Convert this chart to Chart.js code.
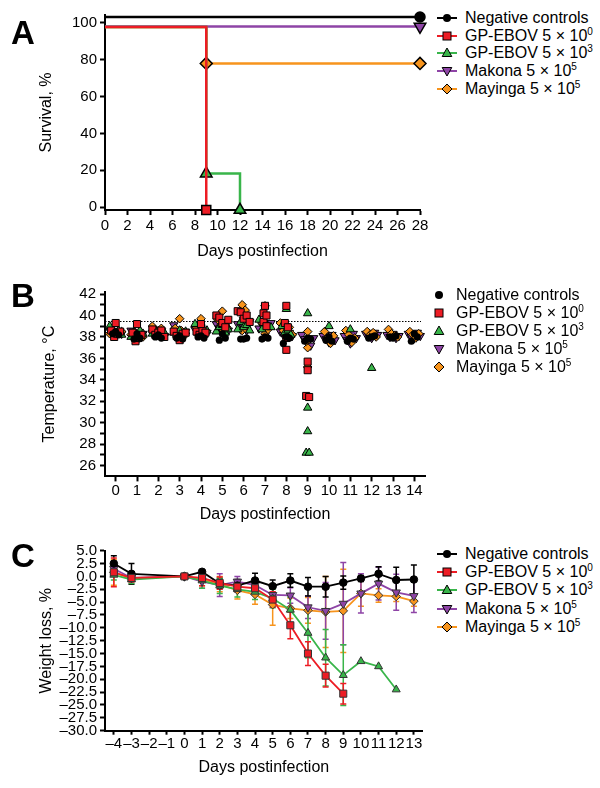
<!DOCTYPE html>
<html>
<head>
<meta charset="utf-8">
<script src="https://cdn.jsdelivr.net/npm/chart.js@4.4.1/dist/chart.umd.min.js"></script>
<style>
  body { margin: 0; background: #fff; font-family: Arial, "Liberation Sans", sans-serif; }
  #wrap { position: relative; width: 600px; height: 788px; overflow: hidden; }
  canvas { position: absolute; }
  .panel { position: absolute; left: 11px; font-size: 33px; font-weight: bold; line-height: 33px; }
  .legend { position: absolute; font-size: 16px; color: #000; }
  .legend .row { display: flex; align-items: center; white-space: nowrap; }
  .legend svg { flex: none; }
  .legend sup { font-size: 10px; vertical-align: baseline; position: relative; top: -6px; }
</style>
</head>
<body>
<div id="wrap">
  <canvas id="cA" width="430" height="270" style="left:0;top:0"></canvas>
  <canvas id="cB" width="435" height="260" style="left:0;top:270px"></canvas>
  <canvas id="cC" width="435" height="258" style="left:0;top:530px"></canvas>
  <div class="panel" style="top:16px">A</div>
  <div class="panel" style="top:279px">B</div>
  <div class="panel" style="top:539px">C</div>
  <div class="legend" id="legA" style="left:437px;top:9px"></div>
  <div class="legend" id="legB" style="left:432px;top:286px"></div>
  <div class="legend" id="legC" style="left:437px;top:545px"></div>
</div>
<script>
// groups (legend order)
const groupLabels = ['Negative controls', 'GP-EBOV 5 × 10^0', 'GP-EBOV 5 × 10^3', 'Makona 5 × 10^5', 'Mayinga 5 × 10^5'];
const groupColors = ['#000000', '#ed1c24', '#39b54a', '#8e44a6', '#f7941d'];
const groupShapes = ['circle', 'rect', 'triangle', 'triangleDown', 'rectRot'];

// A: survival (%), step curves
const survNegX = [0, 28],        survNegY = [103.2, 103.2];
const survGp0X = [0, 9],         survGp0Y = [97.8, -1.6];
const survGp3X = [0, 9, 12],     survGp3Y = [97.8, 18.2, -1.6];
const survMakX = [0, 28],        survMakY = [98.0, 98.0];
const survMayX = [0, 9, 28],     survMayY = [97.8, 78.0, 78.0];
const survXTicks = [0, 2, 4, 6, 8, 10, 12, 14, 16, 18, 20, 22, 24, 26, 28];
const survYTicks = [0, 20, 40, 60, 80, 100];

// B: temperature (°C), one list of animals per day 0..14
const tempDays = [0, 1, 2, 3, 4, 5, 6, 7, 8, 9, 10, 11, 12, 13, 14];
const tempNeg = [[38.3, 38.5, 38.2], [37.8, 38.3, 37.9], [38.0, 38.2, 37.9], [37.9, 38.1, 37.8], [38.0, 38.1, 37.9],
  [37.7, 38.3, 37.9], [37.8, 37.8, 37.9], [37.8, 38.0, 37.9], [37.4, 38.0, 37.9], [37.6, 37.9, 37.8],
  [37.7, 38.0, 37.6], [37.6, 37.9, 37.8], [37.9, 38.0, 38.1], [38.0, 37.9, 38.1], [37.6, 38.3, 38.0]];
const tempGp0 = [[39.3, 38.6, 38.0, 38.3, 38.5], [39.2, 38.4, 37.6, 37.9, 38.2], [38.7, 38.2, 38.4, 38.6, 38.0],
  [38.5, 38.1, 37.7, 38.3, 38.4], [39.2, 38.5, 38.2, 38.6, 38.4], [40.0, 39.8, 39.3, 38.9, 39.6],
  [40.4, 40.3, 39.7, 40.0, 39.4], [40.9, 40.2, 39.4, 39.0, 40.0], [40.9, 39.3, 38.9, 37.9, 36.8],
  [35.7, 34.9, 32.5, 32.4]];
const tempGp3 = [[39.0, 38.5, 38.3, 38.6, 38.2], [38.0, 38.4, 38.2, 38.6, 38.3], [38.3, 38.6, 38.2, 38.5, 38.4],
  [38.4, 38.2, 38.6, 38.3, 38.5], [39.2, 38.4, 38.8, 38.2, 38.6], [38.5, 38.9, 39.1, 38.4, 38.7],
  [38.7, 39.4, 38.9, 39.1, 38.6], [39.6, 38.7, 39.3, 39.0, 38.9], [40.6, 39.0, 38.4, 38.6, 38.2],
  [40.2, 31.4, 29.2, 27.2, 27.2], [39.0], [38.7], [35.1]];
const tempMak = [[38.6, 38.4, 38.2, 38.5, 38.3], [38.6, 38.4, 38.2, 38.0, 38.3], [38.4, 38.7, 38.2, 38.5, 38.1],
  [39.1, 38.7, 38.4, 38.2, 38.5], [38.7, 38.5, 38.9, 38.3, 38.4], [39.2, 38.8, 38.5, 39.0, 38.6],
  [39.2, 38.7, 38.9, 38.6, 39.4], [38.8, 39.1, 38.6, 38.9, 39.3], [38.5, 38.2, 38.7, 38.4, 38.1],
  [38.2, 37.8, 37.5, 37.2, 37.9], [38.1, 37.8, 37.5, 38.2, 37.7], [38.1, 37.7, 37.4, 38.3, 37.9],
  [38.3, 38.1, 37.9, 38.4, 38.2], [38.2, 38.0, 38.3, 37.9, 38.1], [38.3, 38.0, 37.9, 38.4, 38.1]];
const tempMay = [[38.3, 38.6, 38.1, 38.4, 38.5], [38.2, 38.5, 38.3, 37.9, 38.0], [39.0, 38.6, 38.3, 38.8, 38.2],
  [39.7, 38.8, 38.4, 38.6, 38.1], [39.7, 38.9, 38.4, 38.6, 38.3], [40.4, 39.6, 39.1, 38.6, 38.9],
  [41.0, 40.5, 39.8, 38.6, 38.8], [40.9, 40.1, 39.3, 38.3, 38.7], [39.3, 38.6, 38.1, 38.9, 38.2],
  [38.5, 37.6, 37.0, 35.2, 37.8], [38.5, 37.9, 37.4, 38.1], [38.6, 38.2, 37.5, 37.9],
  [38.5, 38.2, 38.4, 38.0], [38.7, 38.3, 38.1, 38.0], [38.5, 38.2, 37.9, 38.3]];
const feverLine = 39.5;
const tempYTicks = [26, 27, 28, 29, 30, 31, 32, 33, 34, 35, 36, 37, 38, 39, 40, 41, 42];

// C: weight loss (%), mean and error per day
const weightDays = [-4, -3, 0, 1, 2, 3, 4, 5, 6, 7, 8, 9, 10, 11, 12, 13];
const wNeg = [2.5, 0.5, 0.0, 0.9, -1.4, -1.8, -0.8, -1.9, -0.8, -2.0, -2.0, -1.2, -0.4, 0.5, -0.7, -0.6];
const wNegErr = [1.5, 2.0, 0.3, 0.3, 1.0, 1.2, 1.4, 1.2, 1.3, 1.8, 2.0, 1.3, 0.6, 1.4, 2.5, 2.8];
const wGp0 = [0.8, -0.3, 0.0, -0.3, -1.3, -2.0, -2.3, -4.5, -9.5, -15.0, -19.3, -22.8];
const wGp0Err = [2.8, 0.8, 0.3, 1.5, 1.2, 1.0, 1.0, 1.5, 2.6, 2.3, 2.2, 2.0];
const wGp3 = [0.3, -0.6, 0.0, -0.8, -1.8, -2.5, -3.0, -4.3, -6.5, -11.0, -15.8, -19.2, -16.5, -17.5, -22.0];
const wGp3Err = [1.0, 0.8, 0.3, 1.5, 1.5, 1.5, 1.5, 1.8, 2.5, 4.8, 5.5, 5.9, 0, 0, 0];
const wMak = [1.5, -0.3, 0.0, -1.0, -1.7, -1.0, -1.7, -3.6, -3.7, -6.0, -6.7, -5.3, -3.3, -1.4, -3.1, -3.8];
const wMakErr = [1.2, 0.5, 0.3, 1.3, 2.2, 1.0, 1.2, 1.2, 1.5, 2.2, 5.5, 8.0, 3.8, 3.2, 3.5, 3.2];
const wMay = [0.8, -0.4, 0.0, -0.6, -1.5, -2.7, -3.5, -5.5, -6.2, -6.6, -6.9, -6.7, -3.3, -3.7, -3.9, -4.8];
const wMayErr = [2.5, 0.6, 0.3, 1.2, 1.5, 1.7, 1.9, 4.0, 2.0, 2.5, 6.9, 8.1, 2.5, 1.3, 1.0, 1.0];
const weightYTicks = [5, 2.5, 0, -2.5, -5, -7.5, -10, -12.5, -15, -17.5, -20, -22.5, -25, -27.5, -30];
const weightXTicks = [-4, -3, -2, -1, 0, 1, 2, 3, 4, 5, 6, 7, 8, 9, 10, 11, 12, 13];

Chart.defaults.font.family = 'Arial, "Liberation Sans", sans-serif';
Chart.defaults.color = '#000';

const minus = v => String(v).replace('-', '\u2013');

function axis(o) {
  return {
    type: 'linear',
    position: o.pos,
    min: o.min,
    max: o.max,
    border: { display: true, color: '#000', width: 2 },
    grid: {
      drawOnChartArea: false, color: '#000', tickColor: '#000', tickLength: o.tl,
      tickWidth: o.tw || 2
    },
    ticks: {
      font: { size: 15 }, color: '#000', padding: o.pad, autoSkip: false,
      maxRotation: 0, minRotation: 0, callback: o.fmt || (v => v)
    },
    title: { display: true, text: o.title, font: { size: 16 }, color: '#000', padding: o.tp },
    afterBuildTicks: s => { s.ticks = o.ticks.map(v => ({ value: v })); },
    afterFit: s => {
      if (o.pos === 'bottom') { s.height = o.size; s.paddingLeft = 0; s.paddingRight = 0; }
      else { s.width = o.size; s.paddingTop = 0; s.paddingBottom = 0; }
    }
  };
}

function markerStyle(i) {
  const shape = groupShapes[i];
  return {
    pointStyle: shape === 'triangleDown' ? 'triangle' : shape,
    pointRotation: shape === 'triangleDown' ? 180 : 0
  };
}

const common = {
  responsive: false,
  animation: false,
  events: [],
  plugins: { legend: { display: false }, tooltip: { enabled: false } }
};

// ---- A: survival
const survSets = [[survNegX, survNegY], [survGp0X, survGp0Y], [survGp3X, survGp3Y], [survMakX, survMakY], [survMayX, survMayY]];
const survRadius = [5, 6.4, 6.7, 6.7, 6];
const survOrder = [1, 0, 2, 3, 4];
new Chart(document.getElementById('cA'), {
  type: 'line',
  data: {
    datasets: survSets.map(([xs, ys], i) => Object.assign({
      label: groupLabels[i],
      data: xs.map((x, k) => ({ x, y: ys[k] })),
      borderColor: groupColors[i],
      backgroundColor: groupColors[i],
      borderWidth: 2.5,
      stepped: true,
      pointRadius: c => c.dataIndex === 0 ? 0 : survRadius[i],
      pointBorderColor: '#000',
      pointBorderWidth: 1.5,
      clip: false,
      order: survOrder[i]
    }, markerStyle(i)))
  },
  options: Object.assign({}, common, {
    layout: { padding: { left: 0, top: 15, right: 10, bottom: 0 } },
    scales: {
      x: axis({ pos: 'bottom', min: 0, max: 28, ticks: survXTicks, title: 'Days postinfection',
        size: 60, tl: 5, pad: 2, tp: { top: 0, bottom: 8.4 } }),
      y: axis({ pos: 'left', min: -1.6, max: 104.3, ticks: survYTicks, title: 'Survival, %',
        size: 105, tl: 5, pad: 3, tp: { top: 37.4, bottom: 0 } })
    }
  })
});

// ---- B: temperature scatter
function spread(vals, day) {
  const idx = vals.map((v, i) => i).sort((a, b) => vals[a] - vals[b]);
  const clusters = [];
  let cur = [];
  idx.forEach((i, k) => {
    if (k && vals[i] - vals[idx[k - 1]] > 0.6) { clusters.push(cur); cur = []; }
    cur.push(i);
  });
  clusters.push(cur);
  const pts = [];
  clusters.forEach(c => {
    c.sort((a, b) => a - b);
    c.forEach((i, j) => pts.push({ x: day + (j - (c.length - 1) / 2) * 0.14, y: vals[i] }));
  });
  return pts;
}
const tempSets = [tempNeg, tempGp0, tempGp3, tempMak, tempMay];
const tempRadius = [3.6, 5, 4.8, 4.8, 4.3];
const tempOrder = [0, 1, 2, 4, 3];
const feverPlugin = {
  id: 'fever',
  beforeDatasetsDraw(chart) {
    const { ctx, chartArea } = chart;
    const y = Math.round(chart.scales.y.getPixelForValue(feverLine)) + 0.5;
    ctx.save();
    ctx.strokeStyle = '#000';
    ctx.lineWidth = 1.2;
    ctx.setLineDash([1.5, 1.5]);
    ctx.beginPath();
    ctx.moveTo(chartArea.left, y);
    ctx.lineTo(chartArea.right - 4, y);
    ctx.stroke();
    ctx.restore();
  }
};
new Chart(document.getElementById('cB'), {
  type: 'scatter',
  data: {
    datasets: tempSets.map((days, i) => Object.assign({
      label: groupLabels[i],
      data: days.flatMap((vals, d) => spread(vals, tempDays[d])),
      backgroundColor: groupColors[i],
      borderColor: '#000',
      borderWidth: i === 0 ? 0 : 1,
      pointRadius: tempRadius[i],
      clip: false,
      order: tempOrder[i]
    }, markerStyle(i)))
  },
  options: Object.assign({}, common, {
    layout: { padding: { left: 0, top: 21.9, right: 10, bottom: 0 } },
    scales: {
      x: axis({ pos: 'bottom', min: -0.5, max: 14.5, ticks: tempDays, title: 'Days postinfection',
        size: 53.6, tl: 5, pad: 0, tp: { top: 0, bottom: 5.4 } }),
      y: Object.assign(axis({ pos: 'left', min: 25, max: 42.2, ticks: tempYTicks, title: 'Temperature, °C',
        size: 105, tl: 5, pad: 4, tp: { top: 40.4, bottom: 0 },
        fmt: v => v % 2 === 0 ? v : '' }))
    }
  }),
  plugins: [feverPlugin]
});

// ---- C: weight loss with error bars
const weightSets = [[wNeg, wNegErr], [wGp0, wGp0Err], [wGp3, wGp3Err], [wMak, wMakErr], [wMay, wMayErr]];
const weightRadius = [3.8, 5, 4.6, 4.8, 4.3];
const weightOrder = [2, 0, 1, 3, 4];
const errorBars = {
  id: 'errorBars',
  beforeDatasetsDraw(chart) {
    const { ctx } = chart;
    const xs = chart.scales.x, ys = chart.scales.y;
    chart.data.datasets.map((ds, i) => i).sort((a, b) => chart.data.datasets[b].order - chart.data.datasets[a].order)
      .forEach(i => {
        const ds = chart.data.datasets[i];
        ctx.save();
        ctx.strokeStyle = ds.borderColor;
        ctx.lineWidth = 1.5;
        ds.data.forEach((p, j) => {
          const e = ds.errors[j];
          if (!e) return;
          const x = xs.getPixelForValue(p.x);
          const y1 = ys.getPixelForValue(p.y + e), y2 = ys.getPixelForValue(p.y - e);
          ctx.beginPath();
          ctx.moveTo(x, y1); ctx.lineTo(x, y2);
          ctx.moveTo(x - 3, y1); ctx.lineTo(x + 3, y1);
          ctx.moveTo(x - 3, y2); ctx.lineTo(x + 3, y2);
          ctx.stroke();
        });
        ctx.restore();
      });
  }
};
new Chart(document.getElementById('cC'), {
  type: 'line',
  data: {
    datasets: weightSets.map(([vals, errs], i) => Object.assign({
      label: groupLabels[i],
      data: vals.map((y, k) => ({ x: weightDays[k], y })),
      errors: errs,
      borderColor: groupColors[i],
      backgroundColor: groupColors[i],
      borderWidth: 1.8,
      pointRadius: weightRadius[i],
      pointBorderColor: i === 0 ? '#000' : '#333',
      pointBorderWidth: 1,
      clip: false,
      order: weightOrder[i]
    }, markerStyle(i)))
  },
  options: Object.assign({}, common, {
    layout: { padding: { left: 0, top: 20.7, right: 12.3, bottom: 0 } },
    scales: {
      x: axis({ pos: 'bottom', min: -4.5, max: 13.5, ticks: weightXTicks, title: 'Days postinfection',
        size: 57.3, tl: 4, pad: 0, tp: { top: 0, bottom: 10.4 }, fmt: v => minus(v) }),
      y: axis({ pos: 'left', min: -30, max: 5, ticks: weightYTicks, title: 'Weight loss, %',
        size: 105, tl: 5, pad: 3, tp: { top: 37.4, bottom: 0 }, fmt: v => minus(v.toFixed(1)) })
    }
  }),
  plugins: [errorBars]
});

// ---- HTML legends
function markerSvg(i, cx, cy) {
  const c = groupColors[i], s = groupShapes[i];
  const st = i === 0 ? '' : ' stroke="#000" stroke-width="1"';
  if (s === 'circle') return `<circle cx="${cx}" cy="${cy}" r="4" fill="${c}"/>`;
  if (s === 'rect') return `<rect x="${cx - 4}" y="${cy - 4}" width="8" height="8" fill="${c}"${st}/>`;
  if (s === 'triangle') return `<polygon points="${cx},${cy - 5} ${cx + 4.8},${cy + 3.5} ${cx - 4.8},${cy + 3.5}" fill="${c}"${st}/>`;
  if (s === 'triangleDown') return `<polygon points="${cx},${cy + 5} ${cx + 4.8},${cy - 3.5} ${cx - 4.8},${cy - 3.5}" fill="${c}"${st}/>`;
  return `<polygon points="${cx},${cy - 5} ${cx + 5},${cy} ${cx},${cy + 5} ${cx - 5},${cy}" fill="${c}"${st}/>`;
}
function labelHtml(t) {
  return t.replace(/\^(\d)/, '<sup>$1</sup>');
}
function buildLegend(id, withLine, rowH) {
  const el = document.getElementById(id);
  el.innerHTML = groupLabels.map((t, i) => {
    const svg = withLine
      ? `<svg width="20" height="14" style="margin-right:8px"><line x1="0" y1="7" x2="20" y2="7" stroke="${groupColors[i]}" stroke-width="2"/>${markerSvg(i, 10, 7)}</svg>`
      : `<svg width="14" height="14" style="margin-right:10px">${markerSvg(i, 7, 7)}</svg>`;
    return `<div class="row" style="height:${rowH}px">${svg}<span>${labelHtml(t)}</span></div>`;
  }).join('');
}
buildLegend('legA', true, 17.75);
buildLegend('legB', false, 18);
buildLegend('legC', true, 18.2);
</script>
</body>
</html>
